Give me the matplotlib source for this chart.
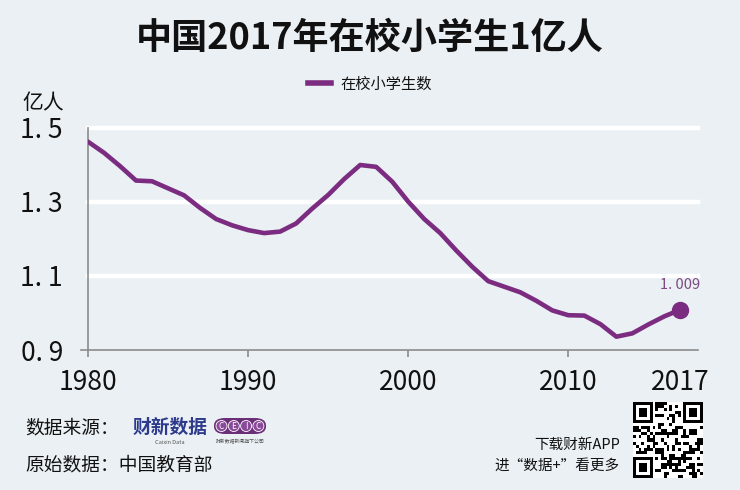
import numpy as np
import matplotlib
matplotlib.use("Agg")
import matplotlib.pyplot as plt
from matplotlib.patches import Ellipse, FancyBboxPatch
from matplotlib.lines import Line2D

plt.rcParams['font.family'] = ['Noto Sans CJK SC', 'DejaVu Sans']

# ---- data ----
years = list(range(1980, 2018))
students = [1.463, 1.433, 1.397, 1.358, 1.356, 1.337, 1.318, 1.284, 1.254, 1.237,
            1.224, 1.216, 1.220, 1.242, 1.282, 1.319, 1.362, 1.400, 1.395, 1.355,
            1.301, 1.254, 1.216, 1.169, 1.125, 1.086, 1.071, 1.056, 1.033, 1.007,
            0.994, 0.993, 0.970, 0.936, 0.945, 0.969, 0.991, 1.009]
series_name = '在校小学生数'
title = '中国2017年在校小学生1亿人'
unit = '亿人'
xticks = [1980, 1990, 2000, 2010, 2017]
yticks = [0.9, 1.1, 1.3, 1.5]
ytick_labels = ['0. 9', '1. 1', '1. 3', '1. 5']
end_label = '1. 009'

BG = '#EAF0F4'
PURPLE = '#7B2C80'
GREY = '#8C8C8C'

fig = plt.figure(figsize=(7.4, 4.9), dpi=100, facecolor=BG)
ax = fig.add_axes([88/740, 1-350/490, 610/740, 222/490], facecolor=BG)

ax.set_xlim(1980, 2018.1)
ax.set_ylim(0.9, 1.5)
ax.set_yticks(yticks)
ax.set_yticklabels(ytick_labels)
ax.set_xticks(xticks)
ax.set_xticklabels([str(x) for x in xticks])
for y in yticks[1:]:
    ax.axhline(y, color='white', lw=3.2, zorder=1, clip_on=False)

for s in ['top', 'right']:
    ax.spines[s].set_visible(False)
for s in ['left', 'bottom']:
    ax.spines[s].set_color(GREY)
    ax.spines[s].set_linewidth(1.2)

ax.tick_params(axis='y', length=0, pad=18, labelsize=19, colors='#111111')
ax.tick_params(axis='x', length=5, width=1.2, color=GREY, pad=9, labelsize=19,
               labelcolor='#111111')
for lab in ax.get_xticklabels() + ax.get_yticklabels():
    lab.set_fontweight('light')
ax.xaxis.get_major_ticks()[-1].tick1line.set_visible(False)
ax.plot([-0.012, 0], [0, 0], transform=ax.transAxes, color=GREY, lw=1.2, clip_on=False)

ax.plot(years, students, color=PURPLE, lw=3.3, zorder=3, solid_capstyle='round',
        solid_joinstyle='round')
ax.plot(years[-1], students[-1], 'o', color=PURPLE, ms=11.5, zorder=4, clip_on=False)
ax.annotate(end_label, (years[-1], students[-1]), xytext=(0, 13), textcoords='offset points',
            ha='center', va='bottom', fontsize=10.5, color='#7B4A80', fontweight='light')

# title, unit, legend
fig.text(0.5, 1-38/490, title, ha='center', va='center', fontsize=26, fontweight='bold',
         color='#111111')
fig.text(22/740, 1-103/490, unit, ha='left', va='center', fontsize=15, color='#111111',
         fontweight='light')
handle = Line2D([], [], color=PURPLE, lw=4)
leg = fig.legend([handle], [series_name], loc='center', bbox_to_anchor=(0.5, 1-84/490),
                 frameon=False, fontsize=11, handlelength=1.5, handletextpad=0.6)
for t in leg.get_texts():
    t.set_color('#111111')

# footer
fig.text(25/740, 1-428/490, '数据来源：', ha='left', va='center', fontsize=13.5, color='#111111')
fig.text(25/740, 1-465/490, '原始数据：中国教育部', ha='left', va='center', fontsize=13.5,
         color='#111111')
fig.text(170/740, 1-427/490, '财新数据', ha='center', va='center', fontsize=13.5,
         fontweight='bold', color='#2E3A8C')
fig.text(170/740, 1-442/490, 'Caixin Data', ha='center', va='center', fontsize=4,
         color='#555555')
# CEIC logo
fig.patches.append(FancyBboxPatch((214/740, 1-434/490), 52/740, 16/490,
                                  boxstyle='round,pad=0,rounding_size=0.015',
                                  transform=fig.transFigure, facecolor='#6B2F78',
                                  edgecolor='none'))
for i, ch in enumerate('CEIC'):
    cx = (221.5 + i*12.3)/740
    fig.patches.append(Ellipse((cx, 1-426/490), 11/740, 11/490, transform=fig.transFigure,
                               facecolor='#8A4A9A', edgecolor='white', lw=0.6))
    fig.text(cx, 1-426/490, ch, ha='center', va='center', fontsize=6, color='white')
fig.text(240/740, 1-442/490, '财新数据新闻旗下公司', ha='center', va='center', fontsize=3.5,
         color='#555555')

fig.text(620/740, 1-445/490, '下载财新APP', ha='right', va='center', fontsize=10.5,
         color='#111111')
fig.text(620/740, 1-466/490, '进“数据+”看更多', ha='right', va='center', fontsize=10.5,
         color='#111111')

# QR-like decoration
n = 25
ii, jj = np.meshgrid(np.arange(n), np.arange(n), indexing='ij')
grid = (((ii * 31 + jj * 17) ^ (ii * jj + 5)) % 7 < 3).astype(float)
for (r0, c0) in [(0, 0), (0, n-7), (n-7, 0)]:
    rs = slice(max(r0-1, 0), min(r0+8, n))
    cs = slice(max(c0-1, 0), min(c0+8, n))
    grid[rs, cs] = 0
    grid[r0:r0+7, c0:c0+7] = 1
    grid[r0+1:r0+6, c0+1:c0+6] = 0
    grid[r0+2:r0+5, c0+2:c0+5] = 1
qax = fig.add_axes([633/740, 1-478/490, 70/740, 76/490])
qax.imshow(grid, cmap='Greys', interpolation='nearest', aspect='auto')
qax.axis('off')

fig.savefig('out.png', dpi=100, facecolor=BG)
